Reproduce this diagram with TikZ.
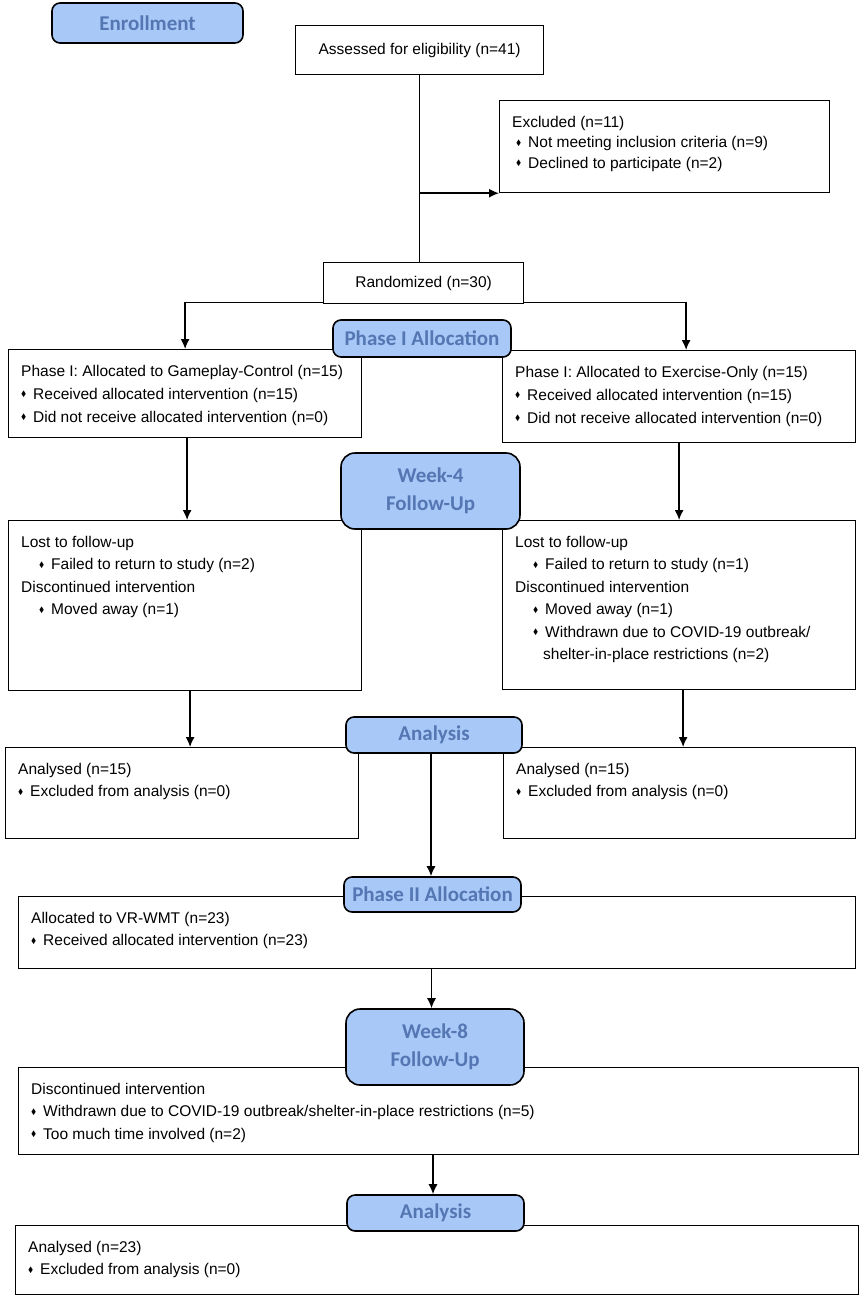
\documentclass[tikz,border=0pt]{standalone}
\usepackage{fontspec}
\usepackage{amssymb}
\usepackage{tikz}
\usetikzlibrary{arrows.meta}
\setmainfont{Liberation Sans}
\newfontfamily\hdfont{Carlito}

\definecolor{hdfill}{RGB}{168,200,247}
\definecolor{hdtext}{RGB}{84,118,178}

% small diamond bullet
\newcommand{\dm}{\makebox[12pt][l]{\raisebox{.3ex}{\scalebox{.5}{$\blacklozenge$}}}}

\tikzset{
  box/.style={draw, line width=1.2pt, anchor=north west, inner sep=0pt},
  txt/.style={anchor=north west, inner sep=0pt, align=left, xshift=13pt, yshift=-16pt,
    font=\fontsize{15.5}{22.5}\selectfont},
  head/.style={draw, line width=1.6pt, fill=hdfill, rounded corners=8pt, text=hdtext,
    font=\hdfont\bfseries\fontsize{21}{28}\selectfont, align=center, inner sep=0pt},
  arr/.style={line width=1.4pt, -{Latex[length=10pt,width=9pt]}},
  ln/.style={line width=1.4pt}
}

\begin{document}
\begin{tikzpicture}[x=1pt,y=-1pt]
    \useasboundingbox (0,0) rectangle (865,1300);

    % boxes
    \node[box, minimum width=248pt, minimum height=49pt, anchor=north west,
      font=\fontsize{15.5}{22.5}\selectfont] (assess) at (295,25) {Assessed for eligibility (n=41)};
    \node[box, minimum width=330pt, minimum height=92pt] (excl) at (499,100) {};
    \node[box, minimum width=200pt, minimum height=41pt,
      font=\fontsize{15.5}{22.5}\selectfont] (rand) at (323,262) {Randomized (n=30)};
    \node[box, minimum width=353pt, minimum height=88pt] (gcA) at (8,349) {};
    \node[box, minimum width=353pt, minimum height=92pt] (exA) at (502,350) {};
    \node[box, minimum width=353pt, minimum height=170pt] (gcL) at (8,520) {};
    \node[box, minimum width=353pt, minimum height=169pt] (exL) at (502,520) {};
    \node[box, minimum width=353pt, minimum height=91pt] (gcN) at (5,747) {};
    \node[box, minimum width=352pt, minimum height=91pt] (exN) at (503,747) {};
    \node[box, minimum width=837pt, minimum height=72pt] (vr) at (18,896) {};
    \node[box, minimum width=840pt, minimum height=87pt] (disc) at (18,1067) {};
    \node[box, minimum width=843pt, minimum height=69pt] (fin) at (15,1225) {};

    % box texts
    \node[txt, font=\fontsize{15.5}{20.5}\selectfont] (excl-t) at (excl.north west)
      {Excluded (n=11)\\ \hspace*{4pt}\dm Not meeting inclusion criteria (n=9)\\ \hspace*{4pt}\dm Declined to participate (n=2)};
    \node[txt, font=\fontsize{15.5}{23}\selectfont] (gcA-t) at (gcA.north west)
      {Phase I: Allocated to Gameplay-Control (n=15)\\ \dm Received allocated intervention (n=15)\\ \dm Did not receive allocated intervention (n=0)};
    \node[txt, font=\fontsize{15.5}{23}\selectfont] (exA-t) at (exA.north west)
      {Phase I: Allocated to Exercise-Only (n=15)\\ \dm Received allocated intervention (n=15)\\ \dm Did not receive allocated intervention (n=0)};
    \node[txt] (gcL-t) at (gcL.north west)
      {Lost to follow-up\\ \hspace*{18pt}\dm Failed to return to study (n=2)\\ Discontinued intervention\\ \hspace*{18pt}\dm Moved away (n=1)};
    \node[txt] (exL-t) at (exL.north west)
      {Lost to follow-up\\ \hspace*{18pt}\dm Failed to return to study (n=1)\\ Discontinued intervention\\ \hspace*{18pt}\dm Moved away (n=1)\\
       \hspace*{18pt}\dm Withdrawn due to COVID-19 outbreak/\\ \hspace*{28pt}shelter-in-place restrictions (n=2)};
    \node[txt] (gcN-t) at (gcN.north west)
      {Analysed (n=15)\\ \dm Excluded from analysis (n=0)};
    \node[txt] (exN-t) at (exN.north west)
      {Analysed (n=15)\\ \dm Excluded from analysis (n=0)};
    \node[txt] (vr-t) at (vr.north west)
      {Allocated to VR-WMT (n=23)\\ \dm Received allocated intervention (n=23)};
    \node[txt] (disc-t) at (disc.north west)
      {Discontinued intervention\\ \dm Withdrawn due to COVID-19 outbreak/shelter-in-place restrictions (n=5)\\ \dm Too much time involved (n=2)};
    \node[txt] (fin-t) at (fin.north west)
      {Analysed (n=23)\\ \dm Excluded from analysis (n=0)};

    % connectors
    \draw[ln] (assess.south) -- (assess.south |- rand.north);
    \draw[arr] (assess.south |- excl.south west) -- (excl.south west);
    \draw[arr] ([yshift=2pt]rand.south west) -| (gcA.north);
    \draw[arr] ([yshift=2pt]rand.south east) -| ([xshift=7pt]exA.north);
    \draw[arr] ([xshift=2pt]gcA.south) -- ([xshift=2pt]gcL.north);
    \draw[arr] (exA.south) -- (exA.south |- exL.north);
    \draw[arr] ([xshift=5pt]gcL.south) -- ([xshift=5pt]gcL.south |- gcN.north);
    \draw[arr] ([xshift=4pt]exL.south) -- ([xshift=4pt]exL.south |- exN.north);

    % phase headers
    \node[head, minimum width=191pt, minimum height=40pt] (enroll) at (147.5,23) {Enrollment};
    \node[head, minimum width=178pt, minimum height=37pt] (ph1) at (422,338.5) {Phase I Allocation};
    \node[head, minimum width=179pt, minimum height=76pt, rounded corners=14pt] (wk4) at (430.5,491) {Week-4\\Follow-Up};
    \node[head, minimum width=176pt, minimum height=36pt] (an1) at (434,735) {Analysis};
    \node[head, minimum width=177pt, minimum height=35pt] (ph2) at (432.5,894.5) {Phase II Allocation};
    \node[head, minimum width=178pt, minimum height=76pt, rounded corners=14pt] (wk8) at (435,1047) {Week-8\\Follow-Up};
    \node[head, minimum width=177pt, minimum height=36pt] (an2) at (435.5,1213) {Analysis};

    \draw[arr] ([xshift=-3pt]an1.south) -- ([xshift=-3pt]an1.south |- ph2.north);
    \draw[arr] ([xshift=-1pt]vr.south -| ph2.south) -- ([xshift=-1pt]ph2.south |- wk8.north);
    \draw[arr] ([xshift=-2pt]wk8.south |- disc.south) -- ([xshift=-2pt]wk8.south |- an2.north);

\end{tikzpicture}
\end{document}
